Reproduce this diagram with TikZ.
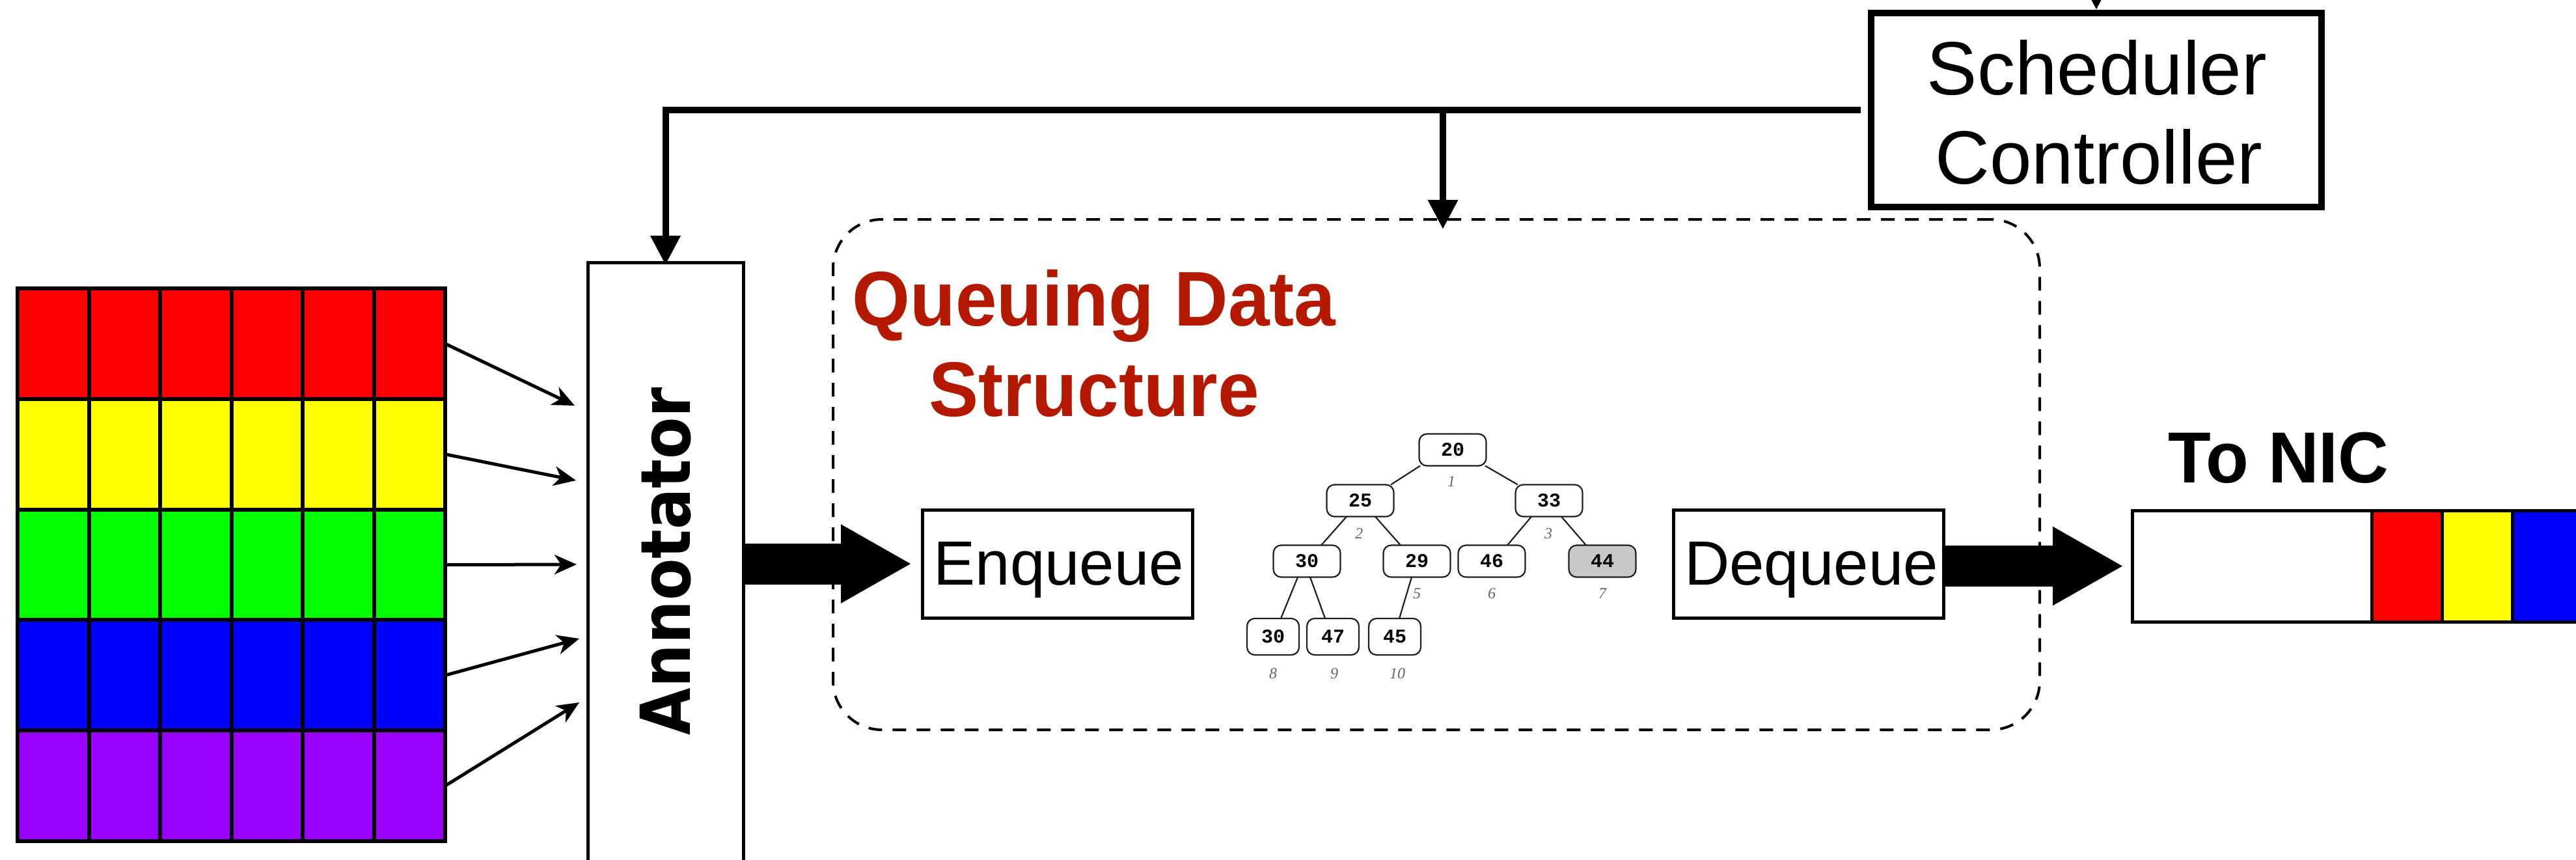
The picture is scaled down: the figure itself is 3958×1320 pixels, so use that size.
\documentclass[tikz,border=0pt]{standalone}
\usepackage{graphicx}
\usepackage{fontspec}
\setmainfont{Liberation Sans}
\newfontfamily\annofont{DejaVu Sans}
\newfontfamily\keyfont{Liberation Mono}
\newfontfamily\idxfont{Liberation Serif}
\usetikzlibrary{arrows.meta,calc}

\definecolor{qred}{RGB}{180,25,0}
\definecolor{cellred}{RGB}{255,0,0}
\definecolor{cellyellow}{RGB}{255,255,0}
\definecolor{cellgreen}{RGB}{0,255,0}
\definecolor{cellblue}{RGB}{0,0,255}
\definecolor{cellpurple}{RGB}{153,0,255}
\definecolor{heapgray}{RGB}{200,200,200}
\definecolor{idxgray}{RGB}{100,100,100}
\definecolor{heapline}{RGB}{30,30,30}

\begin{document}
\begin{tikzpicture}[x=1pt,y=-1pt,
  rowcell/.style={draw=black, line width=6pt, minimum width=657pt, minimum height=169.8pt, inner sep=0pt, outer sep=0pt},
  gridarrow/.style={line width=5pt, -{Stealth[length=34pt, width=30pt, inset=10pt]}},
  ctrlarrow/.style={line width=10pt, -{Triangle[length=45pt, width=44pt]}},
  bigarrow/.style={line width=63pt, -{Triangle[length=109pt, width=113pt]}},
  opbox/.style={draw=black, line width=5pt, minimum width=415pt, minimum height=166pt, inner sep=0pt},
  oplabel/.style={anchor=base, inner sep=0pt, font=\fontsize{96}{115}\selectfont},
  biglabel/.style={anchor=base, inner sep=0pt, font=\fontsize{116}{139}\selectfont},
  qlabel/.style={anchor=base, inner sep=0pt, text=qred, font=\fontsize{119}{139}\selectfont\bfseries},
  nicbox/.style={draw=black, line width=5pt, minimum height=171pt, inner sep=0pt, outer sep=0pt},
  hnode/.style={draw=heapline, fill=white, line width=2.2pt, rounded corners=12pt, minimum width=103pt, minimum height=49pt, inner sep=0pt, outer sep=0pt, font=\keyfont\bfseries\fontsize{30}{32}\selectfont},
  hleaf/.style={hnode, minimum width=80pt, minimum height=56pt},
  hedge/.style={draw=heapline, line width=2.2pt},
  hidx/.style={inner sep=0pt, text=idxgray, font=\idxfont\itshape\fontsize{24}{26}\selectfont}
]
\useasboundingbox (0,0) rectangle (3958,1320);
\clip (0,0) rectangle (3958,1320);

% incoming flows, one coloured row per flow
\node[rowcell, fill=cellred]    (r1) at (355.5, 527.9) {};
\node[rowcell, fill=cellyellow] (r2) at (355.5, 697.7) {};
\node[rowcell, fill=cellgreen]  (r3) at (355.5, 867.5) {};
\node[rowcell, fill=cellblue]   (r4) at (355.5, 1037.3) {};
\node[rowcell, fill=cellpurple] (r5) at (355.5, 1207.1) {};
\foreach \k in {1,...,5}
  \draw[line width=6pt] (27+\k*109.5, 443) -- (27+\k*109.5, 1292);

% annotator
\node[draw=black, line width=5pt, minimum width=239pt, minimum height=1100pt, inner sep=0pt, outer sep=0pt] (anno) at (1022.5, 953) {};
\node[rotate=90, inner sep=0pt] (annot) at (1023, 862)
  {\annofont\bfseries\fontsize{106}{120}\selectfont\scalebox{0.885}[1]{Annotator}};

\coordinate (a1) at (883, 623);
\coordinate (a2) at (885, 738);
\coordinate (a3) at (886, 867);
\coordinate (a4) at (890, 981);
\coordinate (a5) at (890, 1079);
\draw[gridarrow] (r1.east) -- (a1);
\draw[gridarrow] (r2.east) -- (a2);
\draw[gridarrow] (r3.east) -- (a3);
\draw[gridarrow] (r4.east) -- (a4);
\draw[gridarrow] (r5.east) -- (a5);

% scheduler controller and its control lines
\node[draw=black, line width=10pt, minimum width=692pt, minimum height=298pt, inner sep=0pt] (sched) at (3221, 169) {};
\node[biglabel] (schA) at (3222, 145) {Scheduler};
\node[biglabel] (schB) at (3225, 282) {Controller};
\coordinate (stop) at (3221, -60);
\draw[ctrlarrow] (stop) -- (sched.north);

\coordinate (j1) at (1022.5, 169);
\coordinate (j2) at (2217, 169);
\draw[line width=10pt] ([xshift=-11pt]sched.west) -- ([xshift=-5pt]j1);
\draw[ctrlarrow, shorten >=-4pt] ([yshift=5pt]j1) -- (anno.north);

% queuing data structure
\node[draw=black, line width=4pt, dash pattern=on 21pt off 16pt, rounded corners=75pt,
      minimum width=1854pt, minimum height=784pt, inner sep=0pt, outer sep=0pt] (qds) at (2207, 729) {};
\draw[ctrlarrow, shorten >=-15pt] ([yshift=5pt]j2) -- (j2 |- qds.north);

\node[qlabel] (qd1) at (1681, 500) {\scalebox{0.96}[1]{Queuing Data}};
\node[qlabel] (qd2) at (1681, 639) {\scalebox{0.96}[1]{Structure}};

\node[opbox] (enq) at (1625, 866) {};
\node[oplabel] (enqt) at (1627, 898) {Enqueue};
\node[opbox] (deq) at (2779, 866) {};
\node[oplabel] (deqt) at (2783, 898) {Dequeue};

% heap
\node[hnode] (h20) at (2232, 691) {20};
\node[hnode] (h25) at (2090, 769) {25};
\node[hnode] (h33) at (2380, 769) {33};
\node[hnode] (h30) at (2008, 862) {30};
\node[hnode] (h29) at (2177, 862) {29};
\node[hnode] (h46) at (2292, 862) {46};
\node[hnode, fill=heapgray] (h44) at (2462, 862) {44};
\node[hleaf] (h30b) at (1956, 978) {30};
\node[hleaf] (h47) at (2048, 978) {47};
\node[hleaf] (h45) at (2143, 978) {45};

\draw[hedge] ([xshift=-50pt]h20.south) -- ([xshift=47pt]h25.north);
\draw[hedge] ([xshift=50pt]h20.south) -- ([xshift=-48pt]h33.north);
\draw[hedge] ([xshift=-21pt]h25.south) -- ([xshift=22pt]h30.north);
\draw[hedge] ([xshift=23pt]h25.south) -- ([xshift=-25pt]h29.north);
\draw[hedge] ([xshift=-27pt]h33.south) -- ([xshift=24pt]h46.north);
\draw[hedge] ([xshift=19pt]h33.south) -- ([xshift=-25pt]h44.north);
\draw[hedge] ([xshift=-14pt]h30.south) -- ([xshift=12pt]h30b.north);
\draw[hedge] ([xshift=5pt]h30.south) -- ([xshift=-12pt]h47.north);
\draw[hedge] ([xshift=-8pt]h29.south) -- ([xshift=7pt]h45.north);

\node[hidx] (i1) at (2230, 740) {1};
\node[hidx] (i2) at (2088, 820) {2};
\node[hidx] (i3) at (2379, 820) {3};
\node[hidx] (i5) at (2177, 912) {5};
\node[hidx] (i6) at (2292, 912) {6};
\node[hidx] (i7) at (2462, 912) {7};
\node[hidx] (i8) at (1956, 1035) {8};
\node[hidx] (i9) at (2050, 1035) {9};
\node[hidx] (i10) at (2147, 1035) {10};

% output queue towards the NIC
\node[nicbox, fill=white, minimum width=368pt] (nic) at (3460, 869.5) {};
\node[nicbox, fill=cellred, minimum width=108pt] (nr) at (3698, 869.5) {};
\node[nicbox, fill=cellyellow, minimum width=108pt] (ny) at (3806, 869.5) {};
\node[nicbox, fill=cellblue, minimum width=108pt] (nb) at (3914, 869.5) {};
\node[biglabel, font=\fontsize{111}{130}\selectfont\bfseries] (tonic) at (3501, 741) {\scalebox{0.97}[1]{To NIC}};

% data path
\draw[bigarrow] (anno.east |- enq.west) -- ([xshift=-14pt]enq.west);
\draw[bigarrow] (deq.east |- nic.west) -- ([xshift=-13pt]nic.west);
\end{tikzpicture}
\end{document}
